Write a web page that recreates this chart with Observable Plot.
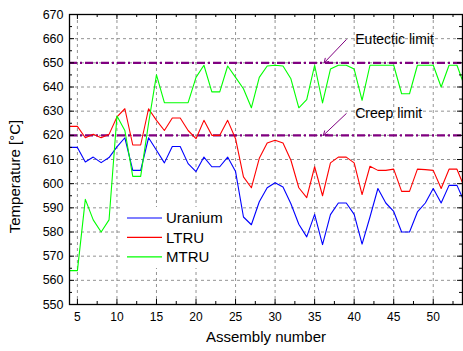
<!DOCTYPE html>
<html>
<head>
<meta charset="utf-8">
<script src="https://cdn.jsdelivr.net/npm/d3@7"></script>
<script src="https://cdn.jsdelivr.net/npm/@observablehq/plot@0.6"></script>
<style>
  html, body { margin: 0; padding: 0; background: white; }
  #chart { width: 463px; height: 351px; }
</style>
</head>
<body>
<div id="chart"></div>
<script>
// ---- data ----
const assemblies = d3.range(4, 55); // 4..54
const uranium = [615, 615, 609, 611, 608.7, 610.8, 615.2, 619, 605.5, 605.5, 619, 613.8,
  608.6, 615.4, 615.4, 608.3, 605, 611, 607, 607, 611, 605, 586.2, 583, 592.5,
  598.3, 600.4, 598.6, 591.7, 583.2, 578, 587.3, 574.8, 587.2, 592, 592, 587.3, 575,
  586.2, 598, 592, 588.5, 580, 580, 588.3, 592, 598, 592, 599.3, 599.3, 592];
const ltru = [623.7, 623.7, 619, 620.4, 619, 620.4, 627.6, 631, 616, 616, 631, 626.2,
  622, 627.2, 627.2, 622, 618.6, 626.2, 620, 620, 626.2, 618.6, 602.8, 598.3, 610.5,
  616.8, 618, 616.8, 609.7, 598.3, 594.2, 607, 595, 608.6, 611, 611, 608.6, 595.5,
  607.2, 605.5, 605.5, 606, 596.8, 596.8, 606, 605.8, 605.5, 598, 606, 606, 598];
const mtru = [564, 564, 593.5, 585, 580, 585, 628, 622, 603, 603, 625, 645,
  633.5, 633.5, 633.5, 633.5, 644, 649, 638, 638, 648.7, 644, 639.3, 631.4, 644,
  648.7, 649, 648.7, 643.4, 631.4, 634.8, 649, 633.4, 647.4, 649, 649, 647.4, 634.5,
  649, 649, 649, 649, 637.2, 637.2, 649, 649, 649, 640, 649, 649, 640];
const seriesNames = ["Uranium", "LTRU", "MTRU"];
const seriesColors = ["#0000ff", "#ff0000", "#00ff00"];
const limitLabels = ["Eutectic limit", "Creep limit"];
const limitValues = [650, 620];
const limitTextX = [39, 39];
const limitTextY = [659.6, 629];
const limitTipX = [36.2, 36.1];
const xMajor = [5, 10, 15, 20, 25, 30, 35, 40, 45, 50];
const xMinor = [7.5, 12.5, 17.5, 22.5, 27.5, 32.5, 37.5, 42.5, 47.5, 52.5];
const yMajor = [550, 560, 570, 580, 590, 600, 610, 620, 630, 640, 650, 660, 670];
const yMinor = [555, 565, 575, 585, 595, 605, 615, 625, 635, 645, 655, 665];
const yGrid = yMajor.slice(1, -1);
const xLabel = "Assembly number";
const yLabel = "Temperature [°C]";

// ---- build tables ----
const seriesValues = [uranium, ltru, mtru];
const rows = [];
seriesValues.forEach((vals, s) => vals.forEach((v, i) => rows.push({x: assemblies[i], y: v, series: seriesNames[s]})));
const limits = limitLabels.map((label, i) => ({label, value: limitValues[i], tx: limitTextX[i], ty: limitTextY[i], tipX: limitTipX[i]}));

const W = 463, H = 351, mL = 69, mR = 1, mT = 14, mB = 47;
const fw = W - mL - mR, fh = H - mT - mB;
const major = 5, minor = 3;

function legendMark() {
  const g = d3.create("svg:g");
  const x0 = 120, y0 = 207, bw = 108, bh = 61;
  g.append("rect").attr("x", x0).attr("y", y0).attr("width", bw).attr("height", bh).attr("fill", "white");
  seriesNames.forEach((name, i) => {
    const yy = 218 + i * 19.4;
    g.append("line").attr("x1", 127).attr("x2", 162).attr("y1", yy).attr("y2", yy)
      .attr("stroke", seriesColors[i]).attr("stroke-width", 1.2);
    g.append("text").attr("x", 166).attr("y", yy).attr("dy", "0.36em")
      .attr("text-anchor", "start")
      .attr("font-size", 15).attr("fill", "black").text(name);
  });
  return g.node();
}

const plot = Plot.plot({
  width: W, height: H,
  marginLeft: mL, marginRight: mR, marginTop: mT, marginBottom: mB,
  style: {fontFamily: "'Liberation Sans', Arial, sans-serif", fontSize: "12px", background: "white", color: "black"},
  x: {domain: [4, 53.7]},
  y: {domain: [550, 670]},
  marks: [
    Plot.gridX(xMajor, {stroke: "#777", strokeOpacity: 1, strokeWidth: 0.8, strokeDasharray: "3,3"}),
    Plot.gridY(yGrid, {stroke: "#777", strokeOpacity: 1, strokeWidth: 0.8, strokeDasharray: "3,3"}),
    legendMark,
    Plot.ruleY(limits, {y: "value", stroke: "#800080", strokeWidth: 2.2, strokeDasharray: "8,3,2,3"}),
    ...seriesNames.map((name, i) => Plot.line(rows.filter(d => d.series === name), {x: "x", y: "y", stroke: seriesColors[i], strokeWidth: 1.1, clip: true})),
    Plot.arrow(limits, {x1: "tx", y1: "ty", x2: "tipX", y2: "value", stroke: "#800080", strokeWidth: 1, headLength: 7}),
    Plot.text(limits, {x: "tx", y: "ty", text: "label", textAnchor: "start", dx: 9, fontSize: 14, fill: "black"}),
    // inward ticks
    Plot.tickX(xMajor, {x: d => d, insetTop: fh - major, stroke: "black"}),
    Plot.tickX(xMinor, {x: d => d, insetTop: fh - minor, stroke: "black"}),
    Plot.tickX(xMajor, {x: d => d, insetBottom: fh - major, stroke: "black"}),
    Plot.tickX(xMinor, {x: d => d, insetBottom: fh - minor, stroke: "black"}),
    Plot.tickY(yMajor, {y: d => d, insetRight: fw - major, stroke: "black"}),
    Plot.tickY(yMinor, {y: d => d, insetRight: fw - minor, stroke: "black"}),
    Plot.tickY(yMajor, {y: d => d, insetLeft: fw - major, stroke: "black"}),
    Plot.tickY(yMinor, {y: d => d, insetLeft: fw - minor, stroke: "black"}),
    Plot.frame({stroke: "black", strokeWidth: 1.3}),
    Plot.axisX({ticks: xMajor, tickSize: 0, tickPadding: 8, label: null, fontSize: 12}),
    Plot.axisY({ticks: yMajor, tickSize: 0, tickPadding: 6, label: null, fontSize: 12.5}),
    Plot.text([xLabel], {frameAnchor: "bottom", dy: 37, text: d => d, fontSize: 15, fill: "black"}),
    Plot.text([yLabel], {frameAnchor: "left", textAnchor: "middle", dx: -54, dy: 17, rotate: -90, text: d => d, fontSize: 15, fill: "black"})
  ]
});
document.getElementById("chart").appendChild(plot);
</script>
</body>
</html>
